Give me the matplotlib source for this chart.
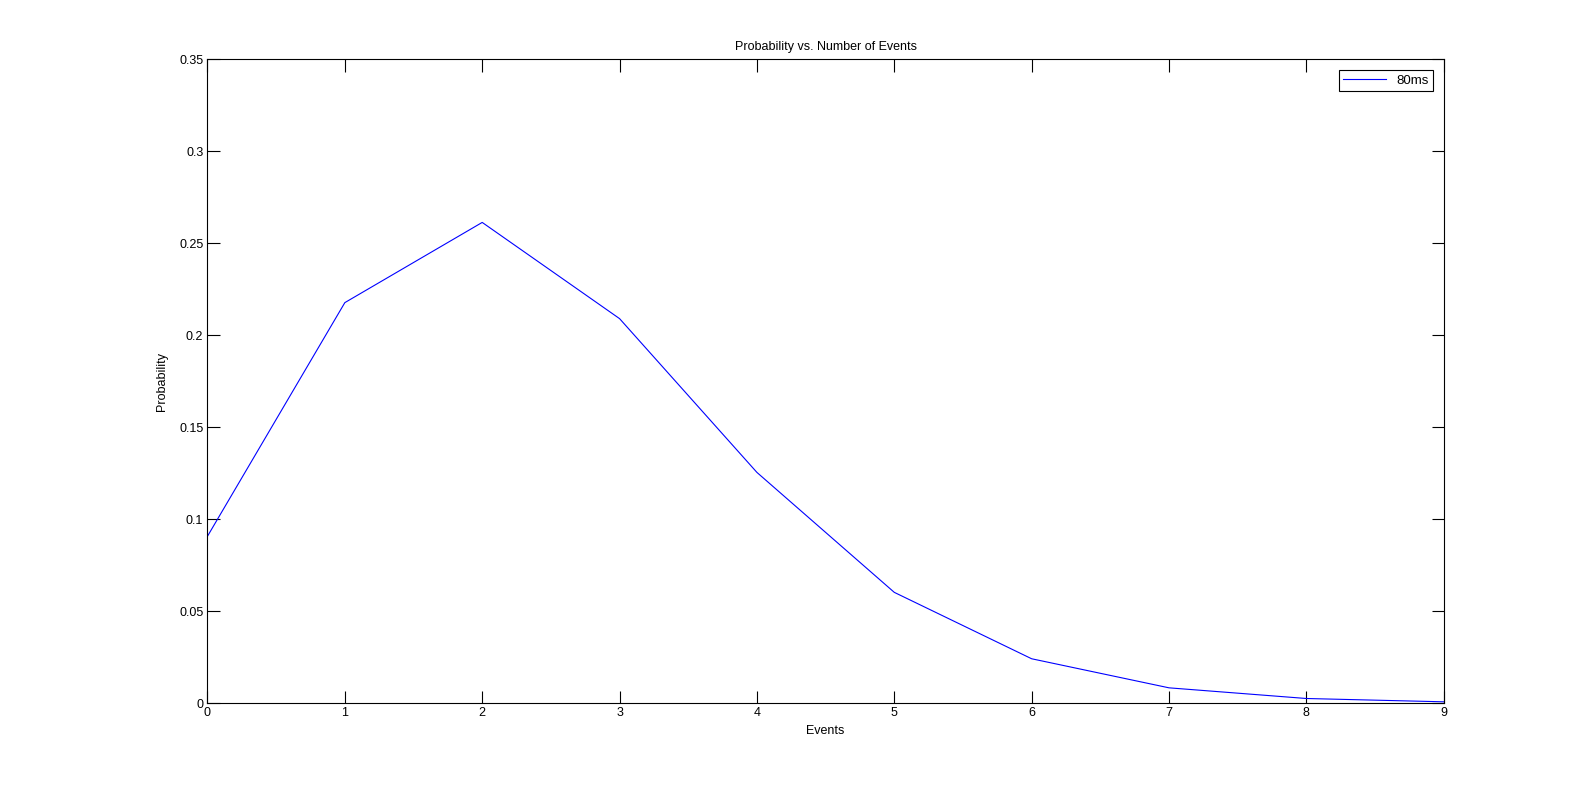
import matplotlib
matplotlib.use('Agg')
import matplotlib.pyplot as plt

# Datos
eventos = [0, 1, 2, 3, 4, 5, 6, 7, 8, 9]
probabilidad = [0.0907, 0.2177, 0.2613, 0.2090, 0.1254, 0.0602, 0.0241, 0.0083, 0.0025, 0.0007]
etiqueta = '80ms'
yticks = [0, 0.05, 0.1, 0.15, 0.2, 0.25, 0.3, 0.35]
yticklabels = ['0', '0.05', '0.1', '0.15', '0.2', '0.25', '0.3', '0.35']

plt.rcParams['font.family'] = ['Liberation Sans', 'DejaVu Sans']
plt.rcParams['font.size'] = 9

fig = plt.figure(figsize=(15.96, 7.90), dpi=100)
ax = fig.add_axes([0.130, 0.110, 0.7746, 0.815])

ax.plot(eventos, probabilidad, color='#0000ff', linewidth=0.8, label=etiqueta)

ax.set_xlim(0, 9)
ax.set_ylim(0, 0.35)
ax.set_xticks(eventos)
ax.set_yticks(yticks)
ax.set_yticklabels(yticklabels)
ax.tick_params(direction='in', length=9, width=0.8, top=True, right=True,
               labelsize=9, pad=3)
for s in ax.spines.values():
    s.set_linewidth(0.8)

ax.set_title('Probability vs. Number of Events', fontsize=9, pad=7)
ax.set_xlabel('Events', fontsize=9, labelpad=4)
ax.set_ylabel('Probability', fontsize=9, labelpad=8)

leg = ax.legend(loc='upper right', fancybox=False, edgecolor='black',
                framealpha=1, fontsize=9.5, handlelength=3.2,
                borderaxespad=0.8, borderpad=0.35)
leg.get_frame().set_linewidth(0.8)

fig.savefig('out.png', dpi=100)
plt.close(fig)
